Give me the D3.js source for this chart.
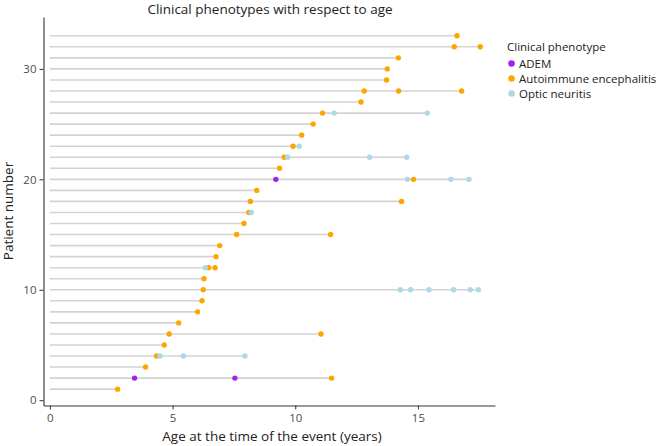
<!DOCTYPE html>
<html><head><meta charset="utf-8">
<script src="https://cdn.jsdelivr.net/npm/d3@7"></script>
<style>body{margin:0;background:#fff;} text{font-family:"Open Sans","Noto Sans",sans-serif;}</style>
</head><body><svg id="c" width="660" height="446"></svg>
<script>
const title = "Clinical phenotypes with respect to age";
const xLabel = "Age at the time of the event (years)";
const yLabel = "Patient number";
const phenotypes = ["ADEM", "Autoimmune encephalitis", "Optic neuritis"];
const colors = ["#a020f0", "#ffa500", "#add8e6"];
const xTicks = [0, 5, 10, 15];
const yTicks = [0, 10, 20, 30];
// [patient, age]
const ademEvents = [[2,3.45],[2,7.54],[20,9.21]];
const aeEvents = [
 [1,2.76],[2,11.48],[3,3.90],[4,4.35],[5,4.66],[6,4.86],[6,11.05],[7,5.25],[8,6.02],[9,6.20],
 [10,6.25],[11,6.28],[12,6.47],[12,6.73],[13,6.77],[14,6.92],[15,7.61],[15,11.44],[16,7.91],[17,8.11],
 [18,8.17],[18,14.33],[19,8.43],[20,14.82],[21,9.36],[22,9.55],[23,9.91],[24,10.26],[25,10.73],[26,11.11],
 [27,12.68],[28,12.81],[28,14.21],[28,16.78],[29,13.72],[30,13.75],[31,14.20],[32,16.48],[32,17.54],[33,16.59]
];
const onEvents = [
 [4,4.49],[4,5.44],[4,7.95],[10,14.28],[10,14.70],[10,15.45],[10,16.45],[10,17.13],[10,17.46],
 [12,6.33],[17,8.21],[20,14.57],[20,16.34],[20,17.08],[22,9.69],[22,13.03],[22,14.54],[23,10.16],
 [26,11.59],[26,15.38]
];

const svg = d3.select("#c");
const x = d3.scaleLinear().domain([-0.26, 18.14]).range([43.5, 495]);
const y = d3.scaleLinear().domain([-0.48, 34.7]).range([405.5, 17]);

const groups = [ademEvents, aeEvents, onEvents];
const all = groups.flat();
const maxAge = d3.rollup(all, v => d3.max(v, d => d[1]), d => d[0]);

// lines
svg.append("g").selectAll("line").data(Array.from(maxAge)).join("line")
  .attr("x1", x(0)).attr("x2", d => x(d[1]))
  .attr("y1", d => y(d[0])).attr("y2", d => y(d[0]))
  .attr("stroke", "#d3d3d3").attr("stroke-width", 1.6);

[1, 2, 0].forEach(i => {
  svg.append("g").selectAll("circle").data(groups[i]).join("circle")
    .attr("cx", d => x(d[1])).attr("cy", d => y(d[0])).attr("r", 2.7)
    .attr("fill", colors[i]);
});

// axes
const xa = svg.append("g").attr("transform", "translate(0,405.5)")
  .call(d3.axisBottom(x).tickValues(xTicks).tickSize(4).tickPadding(4).tickSizeOuter(0));
const ya = svg.append("g").attr("transform", "translate(43.5,0)")
  .call(d3.axisLeft(y).tickValues(yTicks).tickSize(4).tickPadding(3).tickSizeOuter(0));
[xa, ya].forEach(a => {
  a.select(".domain").attr("stroke", "#333").attr("stroke-width", 1.1);
  a.selectAll(".tick line").attr("stroke", "#333");
  a.selectAll("text").attr("fill", "#4d4d4d").style("font-size", "11.5px").style("font-family", '"Open Sans",sans-serif');
});

svg.append("text").attr("x", 270).attr("y", 14).attr("text-anchor", "middle")
  .style("font-size", "13.5px").attr("fill", "#222").text(title);
svg.append("text").attr("x", 272).attr("y", 441).attr("text-anchor", "middle")
  .style("font-size", "13.5px").attr("fill", "#222").text(xLabel);
svg.append("text").attr("transform", "translate(13,211) rotate(-90)").attr("text-anchor", "middle")
  .style("font-size", "13.5px").attr("fill", "#222").text(yLabel);

// legend
const lg = svg.append("g").attr("transform", "translate(507,0)");
lg.append("text").attr("x", 0).attr("y", 51).style("font-size", "11.5px").attr("fill", "#222").text("Clinical phenotype");
phenotypes.forEach((p, i) => {
  lg.append("circle").attr("cx", 4.5).attr("cy", 63.5 + i * 15).attr("r", 3.3).attr("fill", colors[i]);
  lg.append("text").attr("x", 12).attr("y", 67.5 + i * 15).style("font-size", "11.5px").attr("fill", "#222").text(p);
});
</script></body></html>
